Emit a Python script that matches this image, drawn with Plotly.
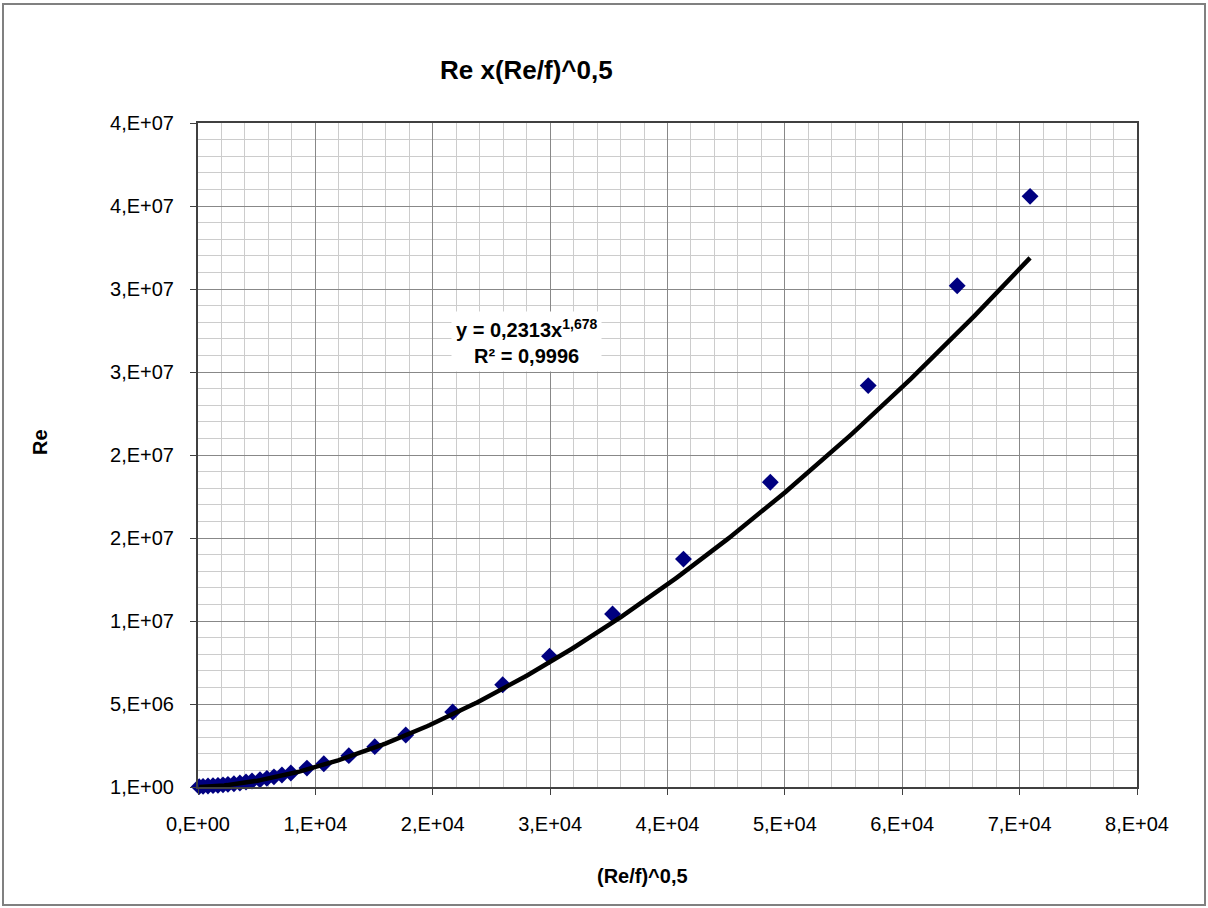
import numpy as np
import plotly.graph_objects as go

# ---- data ----
x_vals = [100, 430, 850, 1280, 1700, 2130, 2550, 3060, 3570, 4090, 4600, 5280, 5870,
          6470, 7150, 7910, 9280, 10720, 12850, 15060, 17700, 21700, 25960, 29950,
          35320, 41360, 48760, 57100, 64680, 70890]
y_vals = [2.0e4, 4.0e4, 6.0e4, 8.0e4, 1.0e5, 1.3e5, 1.6e5, 2.0e5, 2.4e5, 3.0e5, 3.6e5,
          4.4e5, 5.2e5, 6.1e5, 7.2e5, 8.4e5, 1.14e6, 1.40e6, 1.89e6, 2.43e6, 3.13e6,
          4.52e6, 6.16e6, 7.88e6, 10.42e6, 13.73e6, 18.36e6, 24.18e6, 30.20e6, 35.58e6]

# power trendline coefficients as printed on the chart
fit_a = 0.2313
fit_b = 1.678

x_tickvals = [0, 1e4, 2e4, 3e4, 4e4, 5e4, 6e4, 7e4, 8e4]
x_ticktext = ["0,E+00", "1,E+04", "2,E+04", "3,E+04", "4,E+04", "5,E+04", "6,E+04", "7,E+04", "8,E+04"]
y_tickvals = [0, 5e6, 1e7, 1.5e7, 2e7, 2.5e7, 3e7, 3.5e7, 4e7]
y_ticktext = ["1,E+00", "5,E+06", "1,E+07", "2,E+07", "2,E+07", "3,E+07", "3,E+07", "4,E+07", "4,E+07"]

FONT = "Liberation Sans, Arial, sans-serif"

# trendline from the fit
xt = np.linspace(min(x_vals), max(x_vals), 300)
yt = fit_a * xt ** fit_b

fig = go.Figure()
fig.add_trace(go.Scatter(
    x=x_vals, y=y_vals, mode="markers",
    marker=dict(symbol="diamond", size=13, color="#000080",
                line=dict(color="#000080", width=0)),
    cliponaxis=False, showlegend=False))
fig.add_trace(go.Scatter(
    x=xt, y=yt, mode="lines", line=dict(color="black", width=4.5),
    showlegend=False))

L, R, T, B = 198, 71, 123, 121
W, H = 1208, 908
pw, ph = W - L - R, H - T - B

def px(xp):
    return (xp - L) / pw

def py(yp):
    return (H - B - yp) / ph

axis_common = dict(
    showline=True, mirror=True, linecolor="#404040", linewidth=2,
    ticks="outside", ticklen=6, tickcolor="#404040", tickwidth=1,
    showgrid=True, gridcolor="#888888", gridwidth=1, zeroline=False,
    tickfont=dict(family=FONT, size=20, color="black"),
    ticklabelstandoff=12,
)

fig.update_xaxes(range=[0, 8e4], tickmode="array", tickvals=x_tickvals, ticktext=x_ticktext,
                 minor=dict(dtick=2000, showgrid=True, gridcolor="#cccccc", gridwidth=1, ticks=""),
                 **axis_common)
fig.update_yaxes(range=[0, 4e7], tickmode="array", tickvals=y_tickvals, ticktext=y_ticktext,
                 minor=dict(dtick=1e6, showgrid=True, gridcolor="#cccccc", gridwidth=1, ticks=""),
                 **axis_common)

fig.update_layout(
    width=W, height=H,
    margin=dict(l=L, r=R, t=T, b=B),
    paper_bgcolor="white", plot_bgcolor="white",
    font=dict(family=FONT, color="black"),
    shapes=[dict(type="rect", xref="paper", yref="paper",
                 x0=px(3), x1=px(1205), y0=py(905), y1=py(4),
                 line=dict(color="#808080", width=2), layer="below")],
    annotations=[
        dict(text="<b>Re x(Re/f)^0,5</b>", xref="paper", yref="paper",
             x=px(526), y=py(70), xanchor="center", yanchor="middle",
             showarrow=False, font=dict(family=FONT, size=26, color="black")),
        dict(text="<b>(Re/f)^0,5</b>", xref="paper", yref="paper",
             x=px(642), y=py(876), xanchor="center", yanchor="middle",
             showarrow=False, font=dict(family=FONT, size=20, color="black")),
        dict(text="<b>Re</b>", xref="paper", yref="paper",
             x=px(40), y=py(442), xanchor="center", yanchor="middle", textangle=-90,
             showarrow=False, font=dict(family=FONT, size=20, color="black")),
        dict(text="<b>y = 0,2313x<sup>1,678</sup><br>R² = 0,9996</b>", xref="paper", yref="paper",
             x=px(526), y=py(341), xanchor="center", yanchor="middle", align="center",
             showarrow=False, bgcolor="white", borderpad=4,
             font=dict(family=FONT, size=20, color="black")),
    ],
)

fig.write_html("out.html")
